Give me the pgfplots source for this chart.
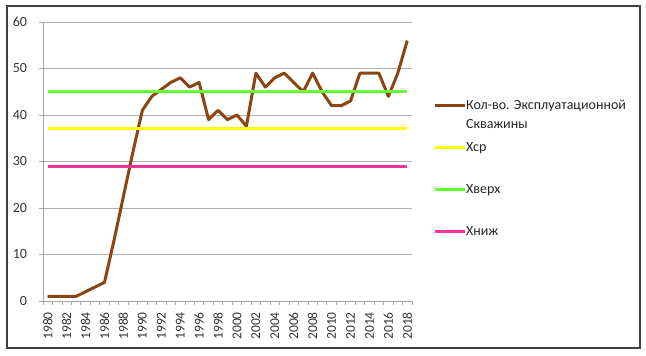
\documentclass[border=0pt]{standalone}
\usepackage{fontspec}
\setmainfont{Carlito}
\usepackage{pgfplots}
\pgfplotsset{compat=1.18}

\definecolor{wellbrown}{RGB}{139,69,19}
\definecolor{avgyellow}{RGB}{255,255,0}
\definecolor{upgreen}{RGB}{102,255,51}
\definecolor{lowpink}{RGB}{255,51,153}

\begin{document}
\begin{tikzpicture}
\useasboundingbox (0,0) rectangle (646pt,356pt);
\draw[black!75, line width=1.3pt] (7pt,8pt) rectangle (640pt,350pt);
\begin{axis}[
    at={(43pt,55pt)}, anchor=south west,
    scale only axis, width=369pt, height=279pt,
    xmin=1979.5, xmax=2018.5, ymin=0, ymax=60,
    axis x line*=bottom, axis y line*=left,
    axis line style={black!35, line width=0.8pt},
    ytick={0,10,...,60},
    ymajorgrids, grid style={black!30, line width=0.8pt},
    xtick={1979.5,1980.5,...,2018.5},
    xticklabels={},
    extra x ticks={1980,1982,...,2018},
    extra x tick labels={1980,1982,1984,1986,1988,1990,1992,1994,1996,1998,2000,2002,2004,2006,2008,2010,2012,2014,2016,2018},
    extra x tick style={major tick length=0pt, grid=none},
    x tick label style={rotate=90, anchor=east, inner xsep=11pt, font=\fontsize{13.5}{15}\selectfont},
    y tick label style={xshift=-8.5pt, font=\fontsize{14}{16}\selectfont},
    tick align=outside, major tick length=4pt,
    tick style={black!35, line width=0.8pt},
    ticklabel style={text=black!80},
    /pgf/number format/assume math mode=true,
    /pgf/number format/1000 sep={},
    legend style={at={(1,1)}, anchor=north west, xshift=21pt, yshift=-74.5pt,
        draw=none, fill=none, inner sep=0pt, row sep=31.5pt, column sep=0pt,
        cells={anchor=base west},
        font=\fontsize{14}{18.7}\selectfont,
        nodes={inner sep=0pt, text=black!85}},
    legend image code/.code={\draw[#1] (0pt,4.5pt) -- (30pt,4.5pt);},
]
\addplot[wellbrown, line width=3pt, line join=round] table {
1980 1
1981 1
1982 1
1983 1
1984 2
1985 3
1986 4
1987 13
1988 22.5
1989 32
1990 41
1991 44
1992 45.5
1993 47
1994 48
1995 46
1996 47
1997 39
1998 41
1999 39
2000 40
2001 37.6
2002 49
2003 46
2004 48
2005 49
2006 47
2007 45
2008 49
2009 45
2010 42
2011 42
2012 43
2013 49
2014 49
2015 49
2016 44
2017 49
2018 56
};
\addlegendentry{\begin{tabular}[t]{@{}l@{}}Кол-во. Эксплуатационной\\Скважины\end{tabular}}
\addplot[avgyellow, line width=3pt] coordinates {(1980,37.1) (2018,37.1)};
\addlegendentry{Хср}
\addplot[upgreen, line width=3pt] coordinates {(1980,45) (2018,45)};
\addlegendentry{Хверх}
\addplot[lowpink, line width=3pt] coordinates {(1980,29) (2018,29)};
\addlegendentry{Хниж}
\end{axis}
\end{tikzpicture}
\end{document}
